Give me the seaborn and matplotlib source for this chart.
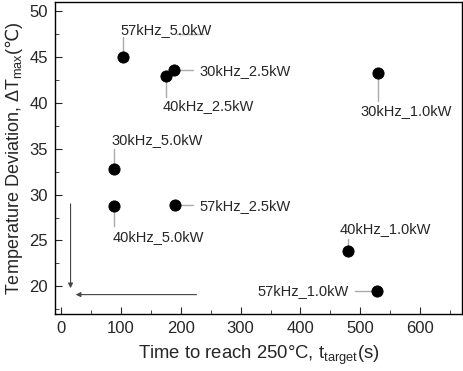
import numpy as np
import pandas as pd
import matplotlib
matplotlib.use("Agg")
import matplotlib.pyplot as plt
import seaborn as sns
from matplotlib.ticker import MultipleLocator

# data
labels = ["57kHz_5.0kW", "40kHz_2.5kW", "30kHz_2.5kW", "30kHz_1.0kW", "30kHz_5.0kW",
          "40kHz_5.0kW", "57kHz_2.5kW", "40kHz_1.0kW", "57kHz_1.0kW"]
t_target = [103, 175, 188, 530, 89, 89, 190, 479, 528]
dT_max = [45.0, 42.9, 43.6, 43.3, 32.8, 28.8, 28.9, 23.8, 19.5]

df = pd.DataFrame({"t": t_target, "dT": dT_max, "label": labels})

sns.set_style("ticks")
plt.rcParams["font.family"] = ["Liberation Sans", "DejaVu Sans"]
plt.rcParams["mathtext.fontset"] = "custom"
plt.rcParams["mathtext.rm"] = "Liberation Sans"
plt.rcParams["mathtext.it"] = "Liberation Sans:italic"
plt.rcParams["mathtext.sf"] = "DejaVu Sans"

fig = plt.figure(figsize=(4.64, 3.71), dpi=100)
ax = fig.add_axes([0.1185, 0.154, 0.8775, 0.8406])

sns.scatterplot(data=df, x="t", y="dT", color="black", s=65, edgecolor="black", ax=ax, zorder=3)

# label text positions (data coords) and leader line ends
txt = {
    "57kHz_5.0kW": ((100, 48.0), "left", (103, 47.2)),
    "40kHz_2.5kW": ((170, 39.7), "left", (175, 40.6)),
    "30kHz_2.5kW": ((232, 43.5), "left", (220, 43.6)),
    "30kHz_1.0kW": ((501, 39.1), "left", (530, 40.2)),
    "30kHz_5.0kW": ((85, 35.9), "left", (89, 35.0)),
    "40kHz_5.0kW": ((86, 25.4), "left", (89, 26.6)),
    "57kHz_2.5kW": ((232, 28.8), "left", (221, 28.9)),
    "40kHz_1.0kW": ((465, 26.3), "left", (479, 25.2)),
    "57kHz_1.0kW": ((481, 19.45), "right", (491, 19.5)),
}
for lab, x, y in zip(labels, t_target, dT_max):
    (tx, ty), ha, (lx, ly) = txt[lab]
    ax.plot([x, lx], [y, ly], color="#aaaaaa", lw=1, zorder=2)
    ax.text(tx, ty, lab, ha=ha, va="center", fontsize=10.5)

# small stray line under 57kHz_5.0kW
ax.plot([194, 237], [47.5, 47.5], color="#aaaaaa", lw=1)

# arrows
ax.annotate("", xy=(16, 19.5), xytext=(16, 29.3),
            arrowprops=dict(arrowstyle="-|>", color="#444444", lw=0.8, mutation_scale=7))
ax.annotate("", xy=(20, 19.1), xytext=(231, 19.1),
            arrowprops=dict(arrowstyle="-|>", color="#444444", lw=0.8, mutation_scale=7))

ax.set_xlim(-10, 670)
ax.set_ylim(17, 51)
ax.xaxis.set_major_locator(MultipleLocator(100))
ax.xaxis.set_minor_locator(MultipleLocator(50))
ax.yaxis.set_major_locator(MultipleLocator(5))
ax.yaxis.set_minor_locator(MultipleLocator(2.5))
ax.tick_params(which="both", direction="in", top=False, right=False, labelsize=12)
ax.tick_params(which="major", length=5, pad=5)
ax.tick_params(which="minor", length=3)
for sp in ax.spines.values():
    sp.set_visible(True)
    sp.set_linewidth(1)
    sp.set_color("black")

ax.set_xlabel("Time to reach 250°C, t$_{\\mathrm{target}}$(s)", fontsize=13.3, labelpad=6)
ax.set_ylabel("Temperature Deviation, ΔT$_{\\mathrm{max}}$($\\mathsf{℃}$)", fontsize=13, labelpad=3)

fig.savefig("out.png", dpi=100)
